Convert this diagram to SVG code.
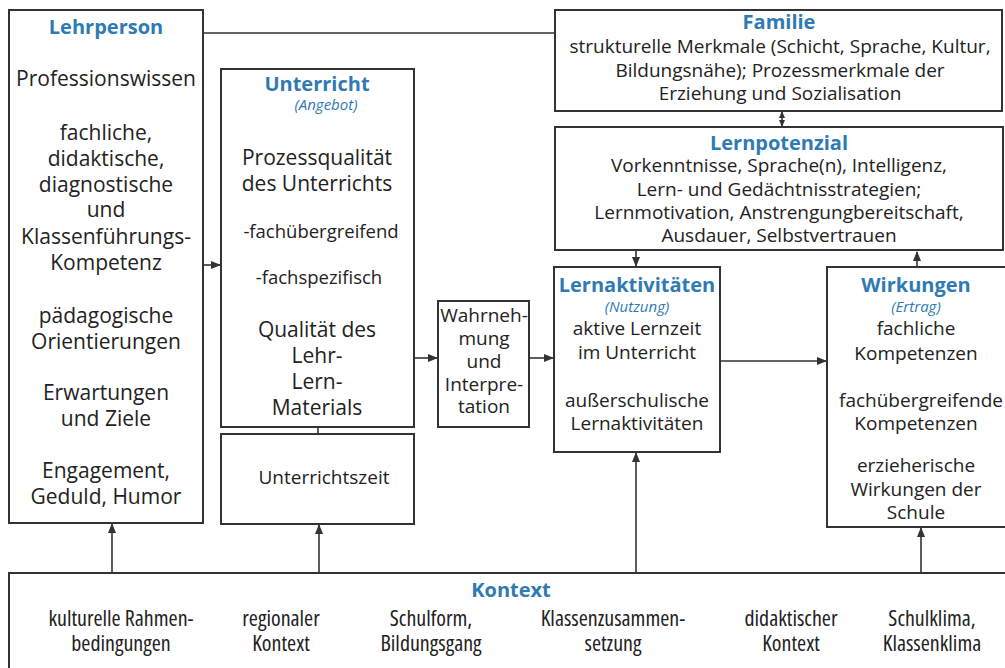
<svg xmlns="http://www.w3.org/2000/svg" width="1005" height="668" viewBox="0 0 1005 668">
<style>
.box{fill:#fff;stroke:#333;stroke-width:2}
.ln{fill:none;stroke:#333;stroke-width:1.6}
text{font-family:"Open Sans","Noto Sans","DejaVu Sans",sans-serif;fill:#222;text-anchor:middle}
.t{font-weight:bold;fill:#2f7ab3;font-size:20px}
.s{font-style:italic;fill:#2f7ab3;font-size:15px}
.b20{font-size:21px}
.b17{font-size:19px}
.b16{font-size:18.5px}
.k{font-size:22px;font-stretch:semi-condensed}
</style>
<defs>
<marker id="ah" markerUnits="userSpaceOnUse" markerWidth="10" markerHeight="8" refX="9" refY="4" orient="auto">
<path d="M0,0 L10,4 L0,8 Z" fill="#333"/>
</marker>
<marker id="as" markerUnits="userSpaceOnUse" markerWidth="7" markerHeight="6" refX="6" refY="3" orient="auto-start-reverse">
<path d="M0,0 L7,3 L0,6 Z" fill="#333"/>
</marker>
</defs>
<rect width="1005" height="668" fill="#fff"/>
<g id="connectors">
<path class="ln" d="M203,33 H555"/>
<path class="ln" d="M203,265 H220" marker-end="url(#ah)"/>
<path class="ln" d="M414,358 H437" marker-end="url(#ah)"/>
<path class="ln" d="M529,358 H553" marker-end="url(#ah)"/>
<path class="ln" d="M720,361 H826" marker-end="url(#ah)"/>
<path class="ln" d="M318,427 V434"/>
<path class="ln" d="M782,112 V126" marker-start="url(#as)" marker-end="url(#as)"/>
<path class="ln" d="M636,251 V266" marker-end="url(#ah)"/>
<path class="ln" d="M917,267 V252" marker-end="url(#ah)"/>
<path class="ln" d="M112,573 V524" marker-end="url(#ah)"/>
<path class="ln" d="M319,573 V525" marker-end="url(#ah)"/>
<path class="ln" d="M636,573 V453" marker-end="url(#ah)"/>
<path class="ln" d="M921,573 V528" marker-end="url(#ah)"/>
</g>
<g id="lehrperson">
<rect class="box" x="9" y="10" width="194" height="513"/>
<text class="t" x="106" y="34">Lehrperson</text>
<text class="b20" x="106" y="86">Professionswissen</text>
<text class="b20" x="106" y="140">fachliche,</text>
<text class="b20" x="106" y="166">didaktische,</text>
<text class="b20" x="106" y="192">diagnostische</text>
<text class="b20" x="106" y="217">und</text>
<text class="b20" x="106" y="244">Klassenführungs-</text>
<text class="b20" x="106" y="270">Kompetenz</text>
<text class="b20" x="106" y="323">pädagogische</text>
<text class="b20" x="106" y="349">Orientierungen</text>
<text class="b20" x="106" y="400">Erwartungen</text>
<text class="b20" x="106" y="426">und Ziele</text>
<text class="b20" x="106" y="478">Engagement,</text>
<text class="b20" x="106" y="504">Geduld, Humor</text>
</g>
<g id="unterricht">
<rect class="box" x="221" y="69" width="193" height="358"/>
<text class="t" x="317" y="91">Unterricht</text>
<text class="s" x="326" y="110">(Angebot)</text>
<text class="b20" x="317" y="165">Prozessqualität</text>
<text class="b20" x="317" y="191">des Unterrichts</text>
<text class="b16" x="321" y="238">-fachübergreifend</text>
<text class="b16" x="319" y="284">-fachspezifisch</text>
<text class="b20" x="317" y="337">Qualität des</text>
<text class="b20" x="317" y="363">Lehr-</text>
<text class="b20" x="317" y="389">Lern-</text>
<text class="b20" x="317" y="415">Materials</text>
</g>
<g id="unterrichtszeit">
<rect class="box" x="221" y="434" width="193" height="90"/>
<text class="b17" x="324" y="484">Unterrichtszeit</text>
</g>
<g id="wahrnehmung">
<rect class="box" x="438" y="301" width="91" height="126"/>
<text class="b17" x="484" y="322">Wahrneh-</text>
<text class="b17" x="484" y="345">mung</text>
<text class="b17" x="484" y="368">und</text>
<text class="b17" x="484" y="391">Interpre-</text>
<text class="b17" x="484" y="413">tation</text>
</g>
<g id="familie">
<rect class="box" x="555" y="10" width="447" height="101"/>
<text class="t" x="779" y="29">Familie</text>
<text class="b17" x="780" y="53">strukturelle Merkmale (Schicht, Sprache, Kultur,</text>
<text class="b17" x="780" y="77">Bildungsnähe); Prozessmerkmale der</text>
<text class="b17" x="780" y="100">Erziehung und Sozialisation</text>
</g>
<g id="lernpotenzial">
<rect class="box" x="555" y="127" width="448" height="123"/>
<text class="t" x="779" y="150">Lernpotenzial</text>
<text class="b17" x="779" y="172">Vorkenntnisse, Sprache(n), Intelligenz,</text>
<text class="b17" x="779" y="196">Lern- und Gedächtnisstrategien;</text>
<text class="b17" x="779" y="219">Lernmotivation, Anstrengungbereitschaft,</text>
<text class="b17" x="779" y="242">Ausdauer, Selbstvertrauen</text>
</g>
<g id="lernaktivitaeten">
<rect class="box" x="554" y="267" width="166" height="185"/>
<text class="t" x="637" y="292">Lernaktivitäten</text>
<text class="s" x="637" y="312">(Nutzung)</text>
<text class="b17" x="637" y="335">aktive Lernzeit</text>
<text class="b17" x="637" y="359">im Unterricht</text>
<text class="b17" x="637" y="407">außerschulische</text>
<text class="b17" x="637" y="430">Lernaktivitäten</text>
</g>
<g id="wirkungen">
<rect class="box" x="827" y="267" width="180" height="260"/>
<text class="t" x="916" y="292">Wirkungen</text>
<text class="s" x="916" y="312">(Ertrag)</text>
<text class="b17" x="916" y="335">fachliche</text>
<text class="b17" x="916" y="360">Kompetenzen</text>
<text class="b17" x="921" y="407">fachübergreifende</text>
<text class="b17" x="916" y="430">Kompetenzen</text>
<text class="b17" x="916" y="472">erzieherische</text>
<text class="b17" x="916" y="496">Wirkungen der</text>
<text class="b17" x="916" y="519">Schule</text>
</g>
<g id="kontext">
<rect class="box" x="9" y="573" width="998" height="100"/>
<text class="t" x="511" y="597">Kontext</text>
<text class="k" x="121" y="626">kulturelle Rahmen-</text>
<text class="k" x="121" y="651">bedingungen</text>
<text class="k" x="281" y="626">regionaler</text>
<text class="k" x="281" y="651">Kontext</text>
<text class="k" x="431" y="626">Schulform,</text>
<text class="k" x="431" y="651">Bildungsgang</text>
<text class="k" x="613" y="626">Klassenzusammen-</text>
<text class="k" x="613" y="651">setzung</text>
<text class="k" x="791" y="626">didaktischer</text>
<text class="k" x="791" y="651">Kontext</text>
<text class="k" x="932" y="626">Schulklima,</text>
<text class="k" x="932" y="651">Klassenklima</text>
</g>
</svg>
